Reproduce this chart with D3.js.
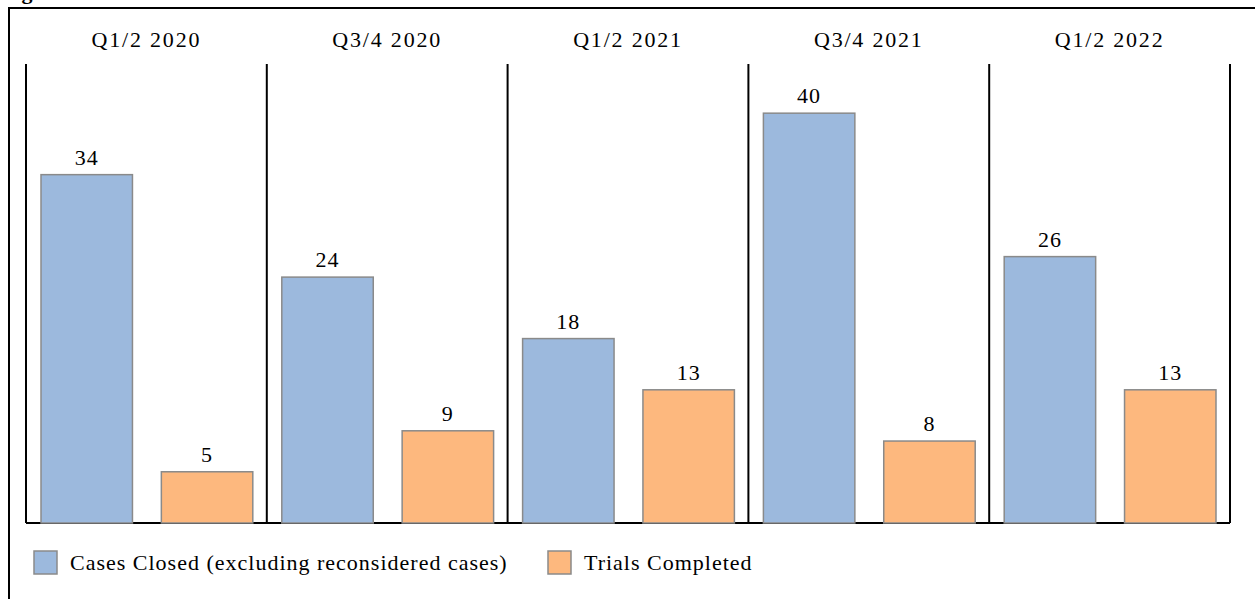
<!DOCTYPE html>
<html>
<head>
<meta charset="utf-8">
<script src="https://d3js.org/d3.v7.min.js"></script>
<style>
  body { margin: 0; background: #fff; }
  text { font-family: 'Liberation Serif'; }
</style>
</head>
<body>
<div id="chart"></div>
<script>
// data
var periods = ["Q1/2 2020", "Q3/4 2020", "Q1/2 2021", "Q3/4 2021", "Q1/2 2022"];
var casesClosed = [34, 24, 18, 40, 26];
var trialsCompleted = [5, 9, 13, 8, 13];
var seriesNames = ["Cases Closed (excluding reconsidered cases)", "Trials Completed"];
var colors = ["#9cb9dd", "#fdb87e"];

var W = 1255, H = 599;
var margin = { top: 64, left: 26, right: 25, bottom: 76 };
var width = W - margin.left - margin.right,
  height = H - margin.top - margin.bottom;

var svg = d3.select("#chart").append("svg")
  .attr("width", W)
  .attr("height", H);

// outer frame (cut off at right and bottom) and the clipped title
svg.append("path")
  .attr("d", "M9,700 V8 H1300")
  .attr("fill", "none")
  .attr("stroke", "#000")
  .attr("stroke-width", 2);
svg.append("text")
  .attr("x", 2)
  .attr("y", -1)
  .attr("font-family", "Liberation Serif")
  .attr("font-weight", "bold")
  .attr("font-size", 22)
  .text("Figure");

var g = svg.append("g")
  .attr("transform", "translate(" + margin.left + "," + margin.top + ")");

var x = d3.scaleBand().domain(periods).range([0, width]);
var y = d3.scaleLinear().domain([0, 44.8]).range([height, 0]);

var inner = d3.scaleBand().domain([0, 1]).range([15, x.bandwidth() - 14]).paddingInner(0.24);

var rows = periods.map(function (p, i) {
  return { period: p, values: [casesClosed[i], trialsCompleted[i]] };
});

// panel dividers
g.selectAll("line.div")
  .data(d3.range(periods.length + 1))
  .join("line")
  .attr("class", "div")
  .attr("x1", function (d) { return d * x.step(); })
  .attr("x2", function (d) { return d * x.step(); })
  .attr("y1", 0)
  .attr("y2", height)
  .attr("stroke", "#000")
  .attr("stroke-width", 2);

// baseline
g.append("line")
  .attr("x1", 0).attr("x2", width)
  .attr("y1", height).attr("y2", height)
  .attr("stroke", "#000")
  .attr("stroke-width", 2);

// period headers
g.selectAll("text.head")
  .data(periods)
  .join("text")
  .attr("class", "head")
  .attr("x", function (d) { return x(d) + x.bandwidth() / 2; })
  .attr("y", -17)
  .attr("text-anchor", "middle")
  .attr("font-family", "Liberation Serif")
  .attr("font-size", 22)
  .attr("letter-spacing", 1.8)
  .text(function (d) { return d; });

var groups = g.selectAll("g.grp")
  .data(rows)
  .join("g")
  .attr("class", "grp")
  .attr("transform", function (d) { return "translate(" + x(d.period) + ",0)"; });

groups.selectAll("rect")
  .data(function (d) { return d.values; })
  .join("rect")
  .attr("x", function (d, i) { return inner(i); })
  .attr("width", inner.bandwidth())
  .attr("y", function (d) { return y(d); })
  .attr("height", function (d) { return height - y(d); })
  .attr("fill", function (d, i) { return colors[i]; })
  .attr("stroke", "#8a8a8a")
  .attr("stroke-width", 1.5);

groups.selectAll("text.val")
  .data(function (d) { return d.values; })
  .join("text")
  .attr("class", "val")
  .attr("x", function (d, i) { return inner(i) + inner.bandwidth() / 2; })
  .attr("y", function (d) { return y(d) - 10; })
  .attr("text-anchor", "middle")
  .attr("font-family", "Liberation Serif")
  .attr("font-size", 22)
  .attr("letter-spacing", 1)
  .text(function (d) { return d; });

// legend
var legendX = [34, 548];
var legend = svg.selectAll("g.leg")
  .data(seriesNames)
  .join("g")
  .attr("class", "leg")
  .attr("transform", function (d, i) { return "translate(" + legendX[i] + ",551)"; });

legend.append("rect")
  .attr("width", 23)
  .attr("height", 23)
  .attr("fill", function (d, i) { return colors[i]; })
  .attr("stroke", "#8a8a8a")
  .attr("stroke-width", 1.5);

legend.append("text")
  .attr("x", 36)
  .attr("y", 19)
  .attr("font-family", "Liberation Serif")
  .attr("font-size", 22)
  .attr("letter-spacing", 1)
  .text(function (d) { return d; });
</script>
</body>
</html>
